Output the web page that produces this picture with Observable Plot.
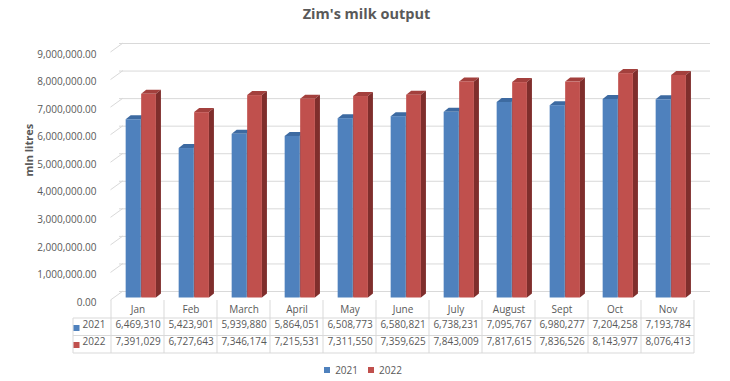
<!DOCTYPE html>
<html>
<head>
<meta charset="utf-8">
<script src="https://cdn.jsdelivr.net/npm/d3@7"></script>
<script src="https://cdn.jsdelivr.net/npm/@observablehq/plot@0.6"></script>
<style>
  html, body { margin: 0; padding: 0; background: #ffffff; }
  #wrap { width: 730px; height: 381px; overflow: hidden; background: #ffffff; }
  #title { height: 30px; line-height: 28px; text-align: center; padding-left: 3px; box-sizing: border-box;
           font-family: "Open Sans", sans-serif; font-weight: bold; font-size: 14.5px; color: #595959; }
  #legend { height: 23px; display: flex; justify-content: center; align-items: center; padding-left: 6px; box-sizing: border-box; }
  #legend > div { min-height: 0 !important; margin: 0 !important; font-family: "Open Sans", sans-serif !important; font-size: 10px !important; color: #595959 !important; }
  #chart svg { display: block; }
</style>
</head>
<body>
<div id="wrap">
  <div id="title">Zim's milk output</div>
  <div id="chart"></div>
  <div id="legend"></div>
</div>
<script>
// ---- data ----
const months = ["Jan", "Feb", "March", "April", "May", "June", "July", "August", "Sept", "Oct", "Nov"];
const years = ["2021", "2022"];
const v2021 = [6469310, 5423901, 5939880, 5864051, 6508773, 6580821, 6738231, 7095767, 6980277, 7204258, 7193784];
const v2022 = [7391029, 6727643, 7346174, 7215531, 7311550, 7359625, 7843009, 7817615, 7836526, 8143977, 8076413];
const yTicks = [0, 1000000, 2000000, 3000000, 4000000, 5000000, 6000000, 7000000, 8000000, 9000000];

// ---- styling ----
const blue = "#4f81bd", blueTop = "#3d6aa1", blueSide = "#2f5381";
const red = "#c0504d", redTop = "#a3403d", redSide = "#7f2e2c";
const gridColor = "#d9d9d9";
const textColor = "#595959";

const W = 730, H = 328;
const mL = 107, mR = 32, mT = 22, mB = 58;
const bandW = (W - mL - mR) / months.length;
const barW = 15.5;
const inOuter = bandW / 2 - barW, inInner = bandW / 2;
const wallDx = 12, wallDy = -9;      // depth of the back wall
const barDx = 3.3, barDy = -2.5;     // bar position inside the depth
const faceDx = 5, faceDy = -4;       // bar thickness

const rows2021 = months.map((m, i) => ({month: m, year: "2021", value: v2021[i]}));
const rows2022 = months.map((m, i) => ({month: m, year: "2022", value: v2022[i]}));
const fmtTick = d3.format(",.2f");
const fmtVal = d3.format(",");

function band(x) {
  return x(months[1]) - x(months[0]);
}

// side walls: slanted grid lines on the left wall
function slants(index, scales) {
  const {x, y} = scales;
  const x0 = x(months[0]);
  const g = d3.create("svg:g").attr("stroke", gridColor).attr("stroke-width", 1).attr("fill", "none");
  for (const t of yTicks) {
    g.append("line")
      .attr("x1", x0 - 0.5).attr("y1", y(t))
      .attr("x2", x0 + wallDx).attr("y2", y(t) + wallDy);
  }
  return g.node();
}

// 3D top and side faces of the columns
function faces(index, scales) {
  const {x, y} = scales;
  const bw = band(x);
  const g = d3.create("svg:g");
  const series = [
    {vals: v2021, il: inOuter, ir: inInner, top: blueTop, side: blueSide},
    {vals: v2022, il: inInner, ir: inOuter, top: redTop, side: redSide}
  ];
  for (const s of series) {
    months.forEach((m, i) => {
      const l = x(m) + s.il + barDx;
      const r = x(m) + bw - s.ir + barDx;
      const t = y(s.vals[i]) + barDy;
      const b = y(0) + barDy;
      g.append("path")
        .attr("d", `M${l},${t}L${l + faceDx},${t + faceDy}L${r + faceDx},${t + faceDy}L${r},${t}Z`)
        .attr("fill", s.top);
      g.append("path")
        .attr("d", `M${r},${t}L${r + faceDx},${t + faceDy}L${r + faceDx},${b + faceDy}L${r},${b}Z`)
        .attr("fill", s.side);
    });
  }
  return g.node();
}

// data table grid
function tableGrid(index, scales) {
  const {x, y} = scales;
  const bw = band(x);
  const x0 = x(months[0]);
  const x1 = x(months[months.length - 1]) + bw;
  const y0 = y(0);
  const rowsY = [y0 + 18, y0 + 35.5, y0 + 53];
  const keyL = x0 - 38;
  const g = d3.create("svg:g").attr("stroke", gridColor).attr("stroke-width", 1).attr("fill", "none");
  for (let k = 0; k <= months.length; k++) {
    g.append("line").attr("x1", x0 + k * bw).attr("x2", x0 + k * bw).attr("y1", y0).attr("y2", rowsY[2]);
  }
  for (const ry of rowsY) {
    g.append("line").attr("x1", keyL).attr("x2", x1).attr("y1", ry).attr("y2", ry);
  }
  g.append("line").attr("x1", keyL).attr("x2", keyL).attr("y1", rowsY[0]).attr("y2", rowsY[2]);
  return g.node();
}

const chart = Plot.plot({
  width: W,
  height: H,
  marginLeft: mL,
  marginRight: mR,
  marginTop: mT,
  marginBottom: mB,
  style: {fontFamily: "Open Sans, sans-serif", fontSize: "10px", color: textColor, background: "#ffffff", overflow: "visible"},
  x: {type: "band", domain: months, padding: 0, axis: null},
  y: {domain: [0, 9000000], axis: null},
  marks: [
    Plot.ruleY(yTicks, {y: d => d, dx: wallDx, dy: wallDy, stroke: gridColor, strokeWidth: 1}),
    slants,
    faces,
    Plot.barY(rows2021, {x: "month", y: "value", fill: blue, insetLeft: inOuter, insetRight: inInner, dx: barDx, dy: barDy}),
    Plot.barY(rows2022, {x: "month", y: "value", fill: red, insetLeft: inInner, insetRight: inOuter, dx: barDx, dy: barDy}),
    tableGrid,
    Plot.text(months, {x: d => d, text: d => d, frameAnchor: "bottom", dy: 12, fill: textColor}),
    Plot.text(rows2021, {x: "month", text: d => fmtVal(d.value), frameAnchor: "bottom", dy: 27.5, fill: textColor}),
    Plot.text(rows2022, {x: "month", text: d => fmtVal(d.value), frameAnchor: "bottom", dy: 44.5, fill: textColor}),
    Plot.dot([years[0]], {frameAnchor: "bottom-left", dx: -31, dy: 27.5, symbol: "square", r: 3.4, fill: blue, stroke: null}),
    Plot.dot([years[1]], {frameAnchor: "bottom-left", dx: -31, dy: 44.5, symbol: "square", r: 3.4, fill: red, stroke: null}),
    Plot.text([years[0]], {text: d => d, frameAnchor: "bottom-left", dx: -25, dy: 27.5, textAnchor: "start", fill: textColor}),
    Plot.text([years[1]], {text: d => d, frameAnchor: "bottom-left", dx: -25, dy: 44.5, textAnchor: "start", fill: textColor}),
    Plot.axisY(yTicks, {tickSize: 0, tickPadding: 11, tickFormat: fmtTick, label: null, dy: 2, fill: textColor}),
    Plot.text(["mln litres"], {text: d => d, frameAnchor: "left", rotate: -90, dx: -78, dy: 0, fontWeight: "bold", fontSize: 11, fill: textColor})
  ]
});
document.getElementById("chart").appendChild(chart);

const legend = Plot.legend({
  color: {type: "categorical", domain: years, range: [blue, red]},
  swatchSize: 6,
  style: {fontFamily: "Open Sans, sans-serif", fontSize: "10px", color: textColor}
});
document.getElementById("legend").appendChild(legend);
</script>
</body>
</html>
